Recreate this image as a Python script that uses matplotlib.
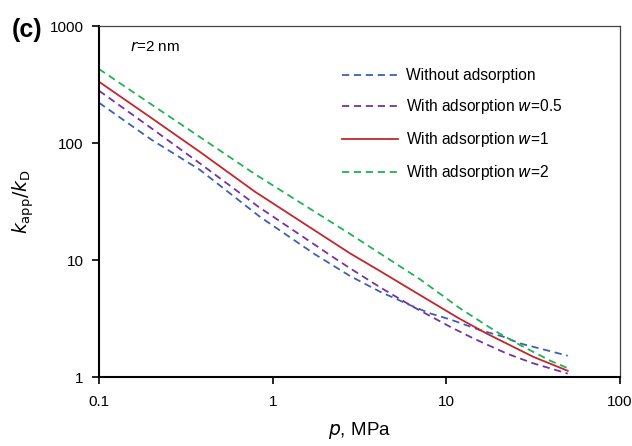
import numpy as np
import matplotlib
matplotlib.use("Agg")
from matplotlib import pyplot as plt

plt.rcParams['font.family'] = ['Liberation Sans', 'DejaVu Sans']

# values, (pressure MPa, k_app/k_D) per curve
p_no = [0.1, 0.2, 0.381, 0.845, 1.75, 2.79, 4.15, 6.17, 8.05, 10.5, 15.6, 21.3, 26.5, 50]
no_ads = [221, 107, 59, 23.4, 11.2, 7.3, 5.36, 4.12, 3.5, 3.11, 2.52, 2.21, 1.94, 1.52]

p_05 = [0.1, 0.2, 0.381, 0.826, 2.29, 2.79, 4.15, 6.4, 10.5, 14.3, 22.2, 31.6, 50]
w05 = [280, 134, 67, 28.6, 10.3, 8.5, 5.85, 4.0, 2.69, 2.14, 1.59, 1.31, 1.07]

p_1 = [0.1, 0.2, 0.381, 0.79, 2.79, 4.15, 7.05, 11.7, 17.0, 31.6, 50]
w1 = [334, 164, 84, 38.4, 11.4, 8.05, 5.02, 3.2, 2.36, 1.49, 1.13]

p_2 = [0.1, 0.2, 0.381, 0.79, 2.79, 4.3, 7.05, 11.97, 19.4, 26.5, 40, 50]
w2 = [429, 214, 112.5, 54.3, 16.7, 11.0, 6.85, 3.87, 2.44, 1.88, 1.37, 1.19]

labels = ["Without adsorption", "With adsorption $\\it{w}$=0.5",
          "With adsorption $\\it{w}$=1", "With adsorption $\\it{w}$=2"]
colors = ["#3D5FB8", "#7433A3", "#C3262C", "#1FB253"]
styles = ["--", "--", "-", "--"]

fig = plt.figure(figsize=(6.32, 4.46), dpi=100, facecolor='w')
ax = fig.add_axes([0.1566, 0.1547, 0.8244, 0.787])

series = [(p_no, no_ads), (p_05, w05), (p_1, w1), (p_2, w2)]
for (xs, ys), lab, c, ls in zip(series, labels, colors, styles):
    if ls == "--":
        ax.plot(xs, ys, ls, color=c, lw=1.3, dashes=(4, 2.6), label=lab)
    else:
        ax.plot(xs, ys, ls, color=c, lw=1.3, label=lab)

ax.set_xscale('log')
ax.set_yscale('log')
ax.set_xlim(0.1, 100)
ax.set_ylim(1, 1000)
ax.set_xticks([0.1, 1, 10, 100])
ax.set_xticklabels(["0.1", "1", "10", "100"])
ax.set_yticks([1, 10, 100, 1000])
ax.set_yticklabels(["1", "10", "100", "1000"])
ax.minorticks_off()
ax.tick_params(axis='x', direction='out', length=5, width=1.2, labelsize=11, pad=8)
ax.tick_params(axis='y', direction='out', length=5, width=1.2, labelsize=11, pad=6)
ax.tick_params(top=False, right=False)

for s in ['left', 'bottom']:
    ax.spines[s].set_linewidth(1.5)
    ax.spines[s].set_color('black')
for s in ['top', 'right']:
    ax.spines[s].set_linewidth(0.9)
    ax.spines[s].set_color('#444444')

ax.set_xlabel("$\\it{p}$, MPa", fontsize=13.5, labelpad=8)
ax.set_ylabel("$\\it{k}_{\\rm app}/\\it{k}_{\\rm D}$", fontsize=13.5, labelpad=10)

ax.text(0.06, 0.94, "$\\it{r}$=2 nm", transform=ax.transAxes, fontsize=11,
        va='center', ha='left')
fig.text(0.019, 0.932, "(c)", fontsize=18, fontweight='bold', va='center', ha='left')

ax.legend(loc='upper left', bbox_to_anchor=(0.44, 0.92), frameon=False,
          fontsize=11.2, handlelength=3.6, labelspacing=0.9, handletextpad=0.5)

plt.savefig("out.png", dpi=100)
plt.close(fig)
